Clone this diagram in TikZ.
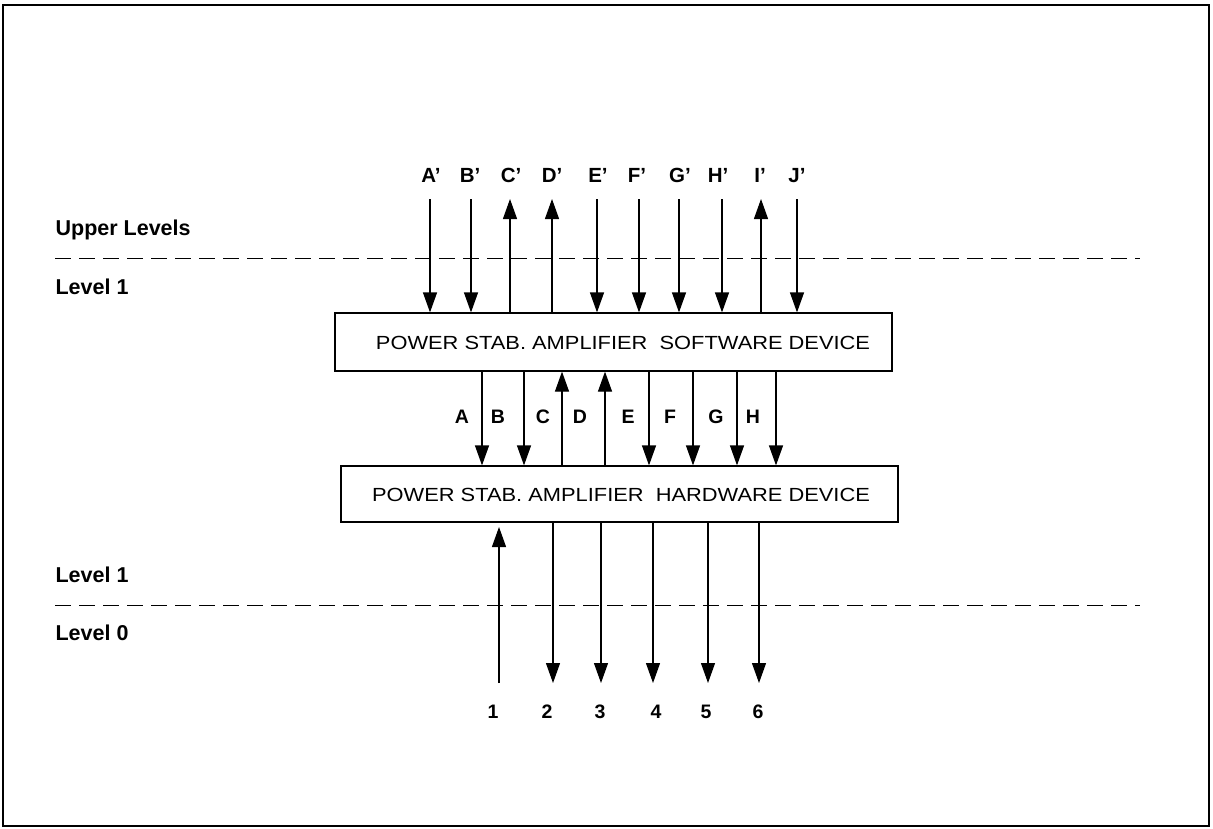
\documentclass[tikz,border=0pt]{standalone}
\usepackage{fontspec}
\setmainfont{Liberation Sans}
\usetikzlibrary{arrows.meta}
\begin{document}
\begin{tikzpicture}[x=1pt,y=-1pt,
  line width=1.2pt,
  arr/.style={-{Triangle[length=20pt,width=14pt]}},
  lvl/.style={dash pattern=on 16pt off 8pt, line width=1pt},
  devbox/.style={draw, line width=1.2pt, inner sep=0pt},
  lab/.style={font=\fontsize{20.5}{22}\selectfont\bfseries, inner sep=0pt, anchor=base},
  mlab/.style={font=\fontsize{19.5}{21}\selectfont\bfseries, inner sep=0pt, anchor=base},
  side/.style={font=\fontsize{21.5}{23}\selectfont\bfseries, inner sep=0pt, anchor=base west},
  boxtxt/.style={font=\fontsize{19}{21}\selectfont, inner sep=0pt}]
\useasboundingbox (0,0) rectangle (1213,828);
\draw[line width=1.4pt] (3,5) rectangle (1209,826);
% level lines
\coordinate (d1a) at (55,258); \coordinate (d1b) at (1140,258);
\coordinate (d2a) at (55,605); \coordinate (d2b) at (1140,605);
\draw[lvl] (d1a) -- (d1b);
\draw[lvl] (d2a) -- (d2b);
\node[side] (ul) at (55,235) {Upper Levels};
\node[side] (l1a) at (55,294) {Level 1};
\node[side] (l1b) at (55,582) {Level 1};
\node[side] (l0) at (55,640) {Level 0};
% boxes
\node[devbox, minimum width=557pt, minimum height=58pt] (sw) at (613.5,342) {};
\node[boxtxt] (swt) at (623,343) {\scalebox{1.15}[1]{POWER STAB. AMPLIFIER\ \ SOFTWARE DEVICE}};
\node[devbox, minimum width=557pt, minimum height=56pt] (hw) at (619.5,494) {};
\node[boxtxt] (hwt) at (621,495) {\scalebox{1.15}[1]{POWER STAB. AMPLIFIER\ \ HARDWARE DEVICE}};
% top arrows
\foreach \n/\x/\lx/\d in {A/430/431/1,B/471/470/1,C/510/511/0,D/552/552/0,E/597/598/1,F/639/637/1,G/679/680/1,H/722/718/1,I/761/760/0,J/797/797/1}{
  \node[lab] (t\n) at (\lx,182) {\n'};
  \coordinate (tc\n) at (\x,199);
  \ifnum\d=1
    \draw[arr] (tc\n) -- (tc\n |- sw.north);
  \else
    \draw[arr] (tc\n |- sw.north) -- (tc\n);
  \fi
}
% middle arrows
\foreach \n/\x/\lx/\d in {A/482/462/1,B/524/498/1,C/562/543/0,D/605/580/0,E/649/628/1,F/693/670/1,G/737/716/1,H/776/753/1}{
  \node[mlab] (m\n) at (\lx,423) {\n};
  \coordinate (mc\n) at (\x,342);
  \ifnum\d=1
    \draw[arr] (mc\n |- sw.south) -- (mc\n |- hw.north);
  \else
    \draw[arr] (mc\n |- hw.north) -- (mc\n |- sw.south);
  \fi
}
% bottom arrows
\coordinate (b1top) at (499,527);
\coordinate (b1bot) at (499,683);
\draw[arr] (b1bot) -- (b1top);
\node[mlab] (n1) at (493,718) {1};
\foreach \n/\x/\lx in {2/553/547,3/601/600,4/653/656,5/708/706,6/759/758}{
  \node[mlab] (n\n) at (\lx,718) {\n};
  \coordinate (bc\n) at (\x,683);
  \draw[arr] (bc\n |- hw.south) -- (bc\n);
}
\end{tikzpicture}
\end{document}
